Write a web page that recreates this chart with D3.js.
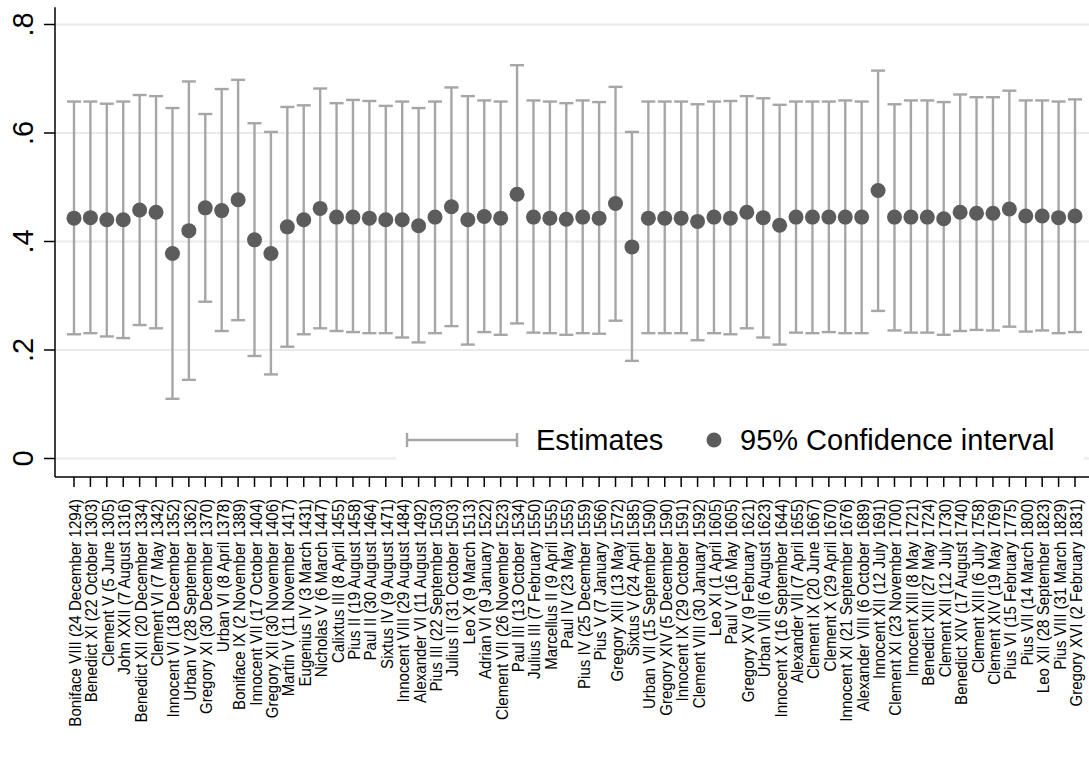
<!DOCTYPE html>
<html>
<head>
<meta charset="utf-8">
<script src="https://cdn.jsdelivr.net/npm/d3@7"></script>
<style>
  body { margin: 0; background: #fff; }
  svg { display: block; font-family: "Liberation Sans", Arial, Helvetica, sans-serif; }
</style>
</head>
<body>
<div id="chart"></div>
<script>
const width = 1089;
const height = 760;

// Popes (conclave election dates)
const popes = [
  "Boniface VIII (24 December 1294)", "Benedict XI (22 October 1303)", "Clement V (5 June 1305)",
  "John XXII (7 August 1316)", "Benedict XII (20 December 1334)", "Clement VI (7 May 1342)",
  "Innocent VI (18 December 1352)", "Urban V (28 September 1362)", "Gregory XI (30 December 1370)",
  "Urban VI (8 April 1378)", "Boniface IX (2 November 1389)", "Innocent VII (17 October 1404)",
  "Gregory XII (30 November 1406)", "Martin V (11 November 1417)", "Eugenius IV (3 March 1431)",
  "Nicholas V (6 March 1447)", "Calixtus III (8 April 1455)", "Pius II (19 August 1458)",
  "Paul II (30 August 1464)", "Sixtus IV (9 August 1471)", "Innocent VIII (29 August 1484)",
  "Alexander VI (11 August 1492)", "Pius III (22 September 1503)", "Julius II (31 October 1503)",
  "Leo X (9 March 1513)", "Adrian VI (9 January 1522)", "Clement VII (26 November 1523)",
  "Paul III (13 October 1534)", "Julius III (7 February 1550)", "Marcellus II (9 April 1555)",
  "Paul IV (23 May 1555)", "Pius IV (25 December 1559)", "Pius V (7 January 1566)",
  "Gregory XIII (13 May 1572)", "Sixtus V (24 April 1585)", "Urban VII (15 September 1590)",
  "Gregory XIV (5 December 1590)", "Innocent IX (29 October 1591)", "Clement VIII (30 January 1592)",
  "Leo XI (1 April 1605)", "Paul V (16 May 1605)", "Gregory XV (9 February 1621)",
  "Urban VIII (6 August 1623)", "Innocent X (16 September 1644)", "Alexander VII (7 April 1655)",
  "Clement IX (20 June 1667)", "Clement X (29 April 1670)", "Innocent XI (21 September 1676)",
  "Alexander VIII (6 October 1689)", "Innocent XII (12 July 1691)", "Clement XI (23 November 1700)",
  "Innocent XIII (8 May 1721)", "Benedict XIII (27 May 1724)", "Clement XII (12 July 1730)",
  "Benedict XIV (17 August 1740)", "Clement XIII (6 July 1758)", "Clement XIV (19 May 1769)",
  "Pius VI (15 February 1775)", "Pius VII (14 March 1800)", "Leo XII (28 September 1823)",
  "Pius VIII (31 March 1829)", "Gregory XVI (2 February 1831)"
];

const estimates = [
  0.443, 0.444, 0.440, 0.440, 0.458, 0.454, 0.378, 0.420, 0.462, 0.457,
  0.477, 0.403, 0.378, 0.427, 0.440, 0.461, 0.445, 0.445, 0.443, 0.440,
  0.440, 0.429, 0.445, 0.464, 0.440, 0.446, 0.443, 0.487, 0.445, 0.443,
  0.441, 0.445, 0.443, 0.470, 0.390, 0.443, 0.443, 0.443, 0.437, 0.445,
  0.443, 0.454, 0.444, 0.430, 0.445, 0.445, 0.445, 0.445, 0.445, 0.494,
  0.445, 0.445, 0.445, 0.442, 0.454, 0.452, 0.452, 0.460, 0.447, 0.447,
  0.444, 0.447
];

const upper = [
  0.658, 0.658, 0.654, 0.658, 0.670, 0.668, 0.646, 0.695, 0.635, 0.681,
  0.698, 0.618, 0.602, 0.648, 0.651, 0.682, 0.655, 0.661, 0.659, 0.650,
  0.658, 0.646, 0.658, 0.684, 0.668, 0.660, 0.658, 0.725, 0.660, 0.658,
  0.655, 0.660, 0.657, 0.685, 0.602, 0.658, 0.658, 0.658, 0.653, 0.658,
  0.659, 0.668, 0.664, 0.652, 0.658, 0.658, 0.658, 0.660, 0.658, 0.715,
  0.653, 0.660, 0.660, 0.657, 0.671, 0.666, 0.666, 0.678, 0.660, 0.660,
  0.658, 0.662
];

const lower = [
  0.229, 0.231, 0.225, 0.222, 0.246, 0.240, 0.110, 0.145, 0.289, 0.235,
  0.255, 0.189, 0.155, 0.206, 0.229, 0.240, 0.235, 0.233, 0.231, 0.231,
  0.223, 0.214, 0.231, 0.244, 0.210, 0.233, 0.228, 0.249, 0.232, 0.231,
  0.228, 0.231, 0.230, 0.254, 0.180, 0.231, 0.231, 0.231, 0.218, 0.231,
  0.229, 0.240, 0.223, 0.210, 0.232, 0.231, 0.233, 0.231, 0.231, 0.272,
  0.236, 0.232, 0.232, 0.228, 0.235, 0.237, 0.236, 0.243, 0.234, 0.236,
  0.231, 0.233
];

const yTicks = [0, 0.2, 0.4, 0.6, 0.8];
const yTickLabels = ["0", ".2", ".4", ".6", ".8"];
const legendLabels = ["Estimates", "95% Confidence interval"];

const barColor = "#a6a6a6";
const dotColor = "#5c5c5c";

const svg = d3.select("#chart")
  .append("svg")
  .attr("width", width)
  .attr("height", height);

// Scales
const x = d3.scalePoint()
  .domain(popes)
  .range([74, 1075]);

const y = d3.scaleLinear()
  .domain([0, 0.8])
  .range([458.5, 24.5]);

const plotLeft = 55;
const plotRight = width;
const plotBottom = y(-0.034);
const plotTop = y(0.832);

// Gridlines
svg.append("g")
  .selectAll("line")
  .data(yTicks)
  .join("line")
  .attr("x1", plotLeft)
  .attr("x2", plotRight)
  .attr("y1", d => y(d))
  .attr("y2", d => y(d))
  .attr("stroke", "#eaeaea")
  .attr("stroke-width", 2);

// Error bars
const bars = svg.append("g")
  .selectAll("g")
  .data(popes)
  .join("g")
  .attr("stroke", barColor)
  .attr("stroke-width", 2.4);

bars.append("line")
  .attr("x1", d => x(d))
  .attr("x2", d => x(d))
  .attr("y1", (d, i) => y(lower[i]))
  .attr("y2", (d, i) => y(upper[i]));

bars.append("line")
  .attr("x1", d => x(d) - 7)
  .attr("x2", d => x(d) + 7)
  .attr("y1", (d, i) => y(lower[i]))
  .attr("y2", (d, i) => y(lower[i]));

bars.append("line")
  .attr("x1", d => x(d) - 7)
  .attr("x2", d => x(d) + 7)
  .attr("y1", (d, i) => y(upper[i]))
  .attr("y2", (d, i) => y(upper[i]));

// Point estimates
svg.append("g")
  .selectAll("circle")
  .data(popes)
  .join("circle")
  .attr("cx", d => x(d))
  .attr("cy", (d, i) => y(estimates[i]))
  .attr("r", 7.5)
  .attr("fill", dotColor);

// Y axis
svg.append("line")
  .attr("x1", plotLeft).attr("x2", plotLeft)
  .attr("y1", plotTop).attr("y2", plotBottom)
  .attr("stroke", "#000").attr("stroke-width", 1.5);

svg.append("g")
  .selectAll("line")
  .data(yTicks)
  .join("line")
  .attr("x1", plotLeft - 11)
  .attr("x2", plotLeft)
  .attr("y1", d => y(d))
  .attr("y2", d => y(d))
  .attr("stroke", "#000")
  .attr("stroke-width", 1.5);

svg.append("g")
  .selectAll("text")
  .data(yTicks)
  .join("text")
  .attr("transform", d => `translate(33,${y(d)}) rotate(-90)`)
  .attr("text-anchor", "middle")
  .attr("font-size", "29px")
  .text((d, i) => yTickLabels[i]);

// X axis
svg.append("line")
  .attr("x1", plotLeft).attr("x2", plotRight)
  .attr("y1", plotBottom).attr("y2", plotBottom)
  .attr("stroke", "#000").attr("stroke-width", 1.5);

svg.append("g")
  .selectAll("line")
  .data(popes)
  .join("line")
  .attr("x1", d => x(d))
  .attr("x2", d => x(d))
  .attr("y1", plotBottom)
  .attr("y2", plotBottom + 10)
  .attr("stroke", "#000")
  .attr("stroke-width", 1.5);

// rotated labels; squeezed along the text so the first label is ~228px long like the original
const labels = svg.append("g")
  .selectAll("text")
  .data(popes)
  .join("text")
  .attr("text-anchor", "end")
  .attr("font-size", "17px")
  .text(d => d);

const firstLen = labels.node().getComputedTextLength();
const squeeze = firstLen > 0 ? 228 / firstLen : 0.88;
labels.attr("transform", d => `translate(${x(d) + 7},${plotBottom + 22}) rotate(-90) scale(${squeeze},1)`);

// Legend
const legend = svg.append("g");

legend.append("rect")
  .attr("x", 396).attr("y", 418)
  .attr("width", 688).attr("height", 52)
  .attr("fill", "#fff");

const ly = 440;
legend.append("line")
  .attr("x1", 407).attr("x2", 517)
  .attr("y1", ly).attr("y2", ly)
  .attr("stroke", barColor).attr("stroke-width", 2.4);
[407, 517].forEach(cx => {
  legend.append("line")
    .attr("x1", cx).attr("x2", cx)
    .attr("y1", ly - 7).attr("y2", ly + 7)
    .attr("stroke", barColor).attr("stroke-width", 2.4);
});
legend.append("text")
  .attr("x", 536).attr("y", ly)
  .attr("dy", "0.35em")
  .attr("font-size", "29px")
  .text(legendLabels[0]);

legend.append("circle")
  .attr("cx", 714).attr("cy", ly)
  .attr("r", 7.5)
  .attr("fill", dotColor);
legend.append("text")
  .attr("x", 740).attr("y", ly)
  .attr("dy", "0.35em")
  .attr("font-size", "29px")
  .text(legendLabels[1]);
</script>
</body>
</html>
